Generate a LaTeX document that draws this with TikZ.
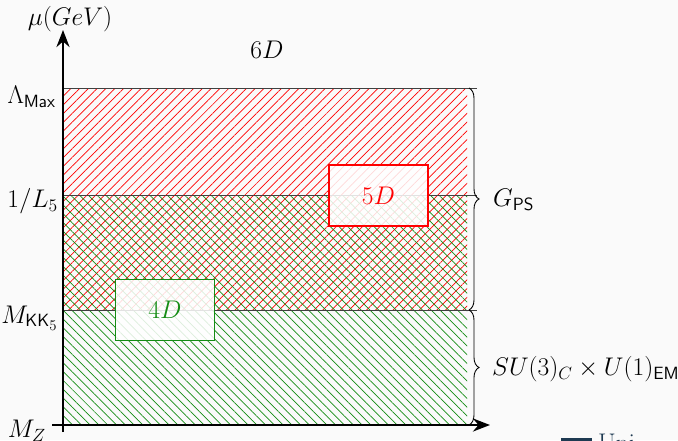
\documentclass[tikz,border=0pt]{standalone}
\usepackage{amsmath}
\usepackage{graphicx}
\usetikzlibrary{patterns.meta,decorations.pathreplacing,arrows.meta}
\definecolor{bg}{RGB}{250,250,250}
\definecolor{dgreen}{RGB}{20,140,20}
\definecolor{footblue}{RGB}{30,58,82}
\newcommand{\mylbl}[1]{\scalebox{1.23}{\huge$#1$}}
\begin{document}
\begin{tikzpicture}[x=1pt,y=-1pt,
  level/.style={draw=black!75,line width=1pt},
  axis/.style={line width=2.8pt,-{Stealth[length=17pt,width=13pt]}},
  dimbox/.style={fill=white,fill opacity=0.85,text opacity=1,line width=1.3pt,minimum width=99pt,minimum height=61pt,inner sep=0pt},
  bracestyle/.style={decorate,decoration={brace,amplitude=10pt},line width=0.9pt},
  lab/.style={inner sep=0pt}]
\useasboundingbox (0,0) rectangle (678,440);
\clip (0,0) rectangle (678,440);
\fill[bg] (0,0) rectangle (678,440);
% coordinates
\coordinate (o) at (63,425);
\coordinate (ytop) at (63,30);
\coordinate (ybot) at (63,432);
\coordinate (xl) at (52,425);
\coordinate (xr) at (490,425);
\coordinate (lmax) at (63,88);
\coordinate (lmaxr) at (477,88);
\coordinate (lfive) at (63,195);
\coordinate (lfiver) at (477,195);
\coordinate (lkk) at (63,310);
\coordinate (lkkr) at (477,310);
% hatching
\fill[pattern={Lines[angle=45,distance=6.2pt,line width=0.7pt]},pattern color=red] (63,88) rectangle (467,310);
\fill[pattern={Lines[angle=-45,distance=6.2pt,line width=0.7pt]},pattern color=dgreen] (63,195) rectangle (467,425);
% level lines
\draw[level] (lmax) -- (lmaxr);
\draw[level] (lfive) -- (lfiver);
\draw[level] (lkk) -- (lkkr);
% boxes
\node[dimbox,draw=red,text=red] (five) at (378.5,195.5) {\mylbl{5D}};
\node[dimbox,draw=dgreen,text=dgreen] (four) at (165,310) {\mylbl{4D}};
% axes
\draw[axis] (ybot) -- (ytop);
\draw[axis] (xl) -- (xr);
% labels
\node[lab] (mu) at (70,19) {\mylbl{\mu(GeV)}};
\node[lab] (six) at (267,50) {\mylbl{6D}};
\node[lab,anchor=east] (tmax) at (56,97) {\mylbl{\Lambda_{\mathsf{Max}}}};
\node[lab,anchor=east] (tfive) at (58,201) {\mylbl{1/L_5}};
\node[lab,anchor=east] (tkk) at (58,318) {\mylbl{M_{\mathsf{KK}_5}}};
\node[lab,anchor=east] (tz) at (46,431) {\mylbl{M_Z}};
% braces
\coordinate (b1t) at (469,88);
\coordinate (b1b) at (469,310);
\coordinate (b2t) at (469,310);
\coordinate (b2b) at (469,425);
\draw[bracestyle] (b1t) -- (b1b);
\draw[bracestyle] (b2t) -- (b2b);
\node[lab,anchor=west] (gps) at (493,200) {\mylbl{G_{\mathsf{PS}}}};
\node[lab,anchor=west] (su) at (492,369) {\mylbl{SU(3)_C\times U(1)_{\mathsf{EM}}}};
% footer fragment
\fill[footblue] (561,437.5) rectangle (592,442);
\node[lab,anchor=north west,text=footblue] (foot) at (598,434) {\mylbl{\mathrm{Uni}}};
\end{tikzpicture}
\end{document}
